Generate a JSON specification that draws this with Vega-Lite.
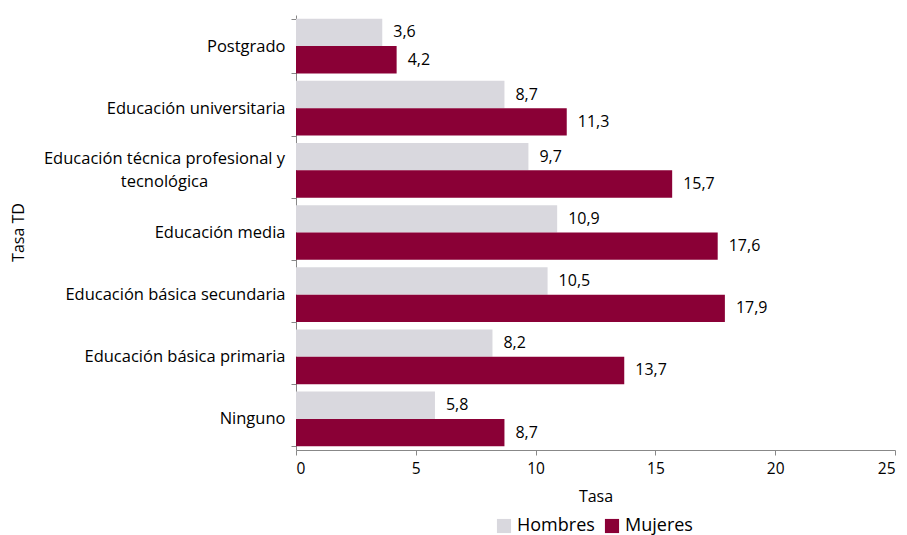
{
  "$schema": "https://vega.github.io/schema/vega-lite/v6.json",
  "autosize": {"type": "none"},
  "width": 599,
  "height": 435,
  "padding": {"left": 296, "top": 15, "right": 12, "bottom": 85},
  "config": {
    "locale": {"number": {"decimal": ",", "thousands": ".", "grouping": [3], "currency": ["", ""]}},
    "font": "Open Sans",
    "view": {"stroke": null},
    "axis": {"labelFont": "Open Sans", "titleFont": "Open Sans", "labelFontSize": 15.5, "titleFontSize": 16, "titleFontWeight": "normal", "labelColor": "#000000", "titleColor": "#000000", "domainColor": "#888888", "tickColor": "#888888", "grid": false}
  },
  "data": {
    "values": [
      {"nivel": "Postgrado", "sexo": "Hombres", "tasa": 3.6},
      {"nivel": "Postgrado", "sexo": "Mujeres", "tasa": 4.2},
      {"nivel": "Educación universitaria", "sexo": "Hombres", "tasa": 8.7},
      {"nivel": "Educación universitaria", "sexo": "Mujeres", "tasa": 11.3},
      {"nivel": "Educación técnica profesional y tecnológica", "sexo": "Hombres", "tasa": 9.7},
      {"nivel": "Educación técnica profesional y tecnológica", "sexo": "Mujeres", "tasa": 15.7},
      {"nivel": "Educación media", "sexo": "Hombres", "tasa": 10.9},
      {"nivel": "Educación media", "sexo": "Mujeres", "tasa": 17.6},
      {"nivel": "Educación básica secundaria", "sexo": "Hombres", "tasa": 10.5},
      {"nivel": "Educación básica secundaria", "sexo": "Mujeres", "tasa": 17.9},
      {"nivel": "Educación básica primaria", "sexo": "Hombres", "tasa": 8.2},
      {"nivel": "Educación básica primaria", "sexo": "Mujeres", "tasa": 13.7},
      {"nivel": "Ninguno", "sexo": "Hombres", "tasa": 5.8},
      {"nivel": "Ninguno", "sexo": "Mujeres", "tasa": 8.7}
    ]
  },
  "encoding": {
    "y": {
      "field": "nivel", "type": "nominal", "sort": null,
      "scale": {"paddingInner": 0.12, "paddingOuter": 0.06},
      "axis": {
        "title": "Tasa TD", "titleX": -278, "titleY": 217, "titleAngle": -90, "titleAlign": "center", "titleBaseline": "middle",
        "tickBand": "extent", "tickSize": 5, "labelLimit": 300, "labelLineHeight": 23, "labelFontSize": 16.5,
        "labelPadding": {"condition": {"test": "datum.value == 'Educación técnica profesional y tecnológica'", "value": 127}, "value": 6},
        "labelAlign": {"condition": {"test": "datum.value == 'Educación técnica profesional y tecnológica'", "value": "center"}, "value": "right"},
        "labelOffset": {"condition": {"test": "datum.value == 'Educación técnica profesional y tecnológica'", "value": -12}, "value": 0},
        "labelExpr": "datum.label == 'Educación técnica profesional y tecnológica' ? ['Educación técnica profesional y', 'tecnológica'] : datum.label"
      }
    },
    "yOffset": {"field": "sexo", "type": "nominal", "sort": ["Hombres", "Mujeres"]},
    "x": {
      "field": "tasa", "type": "quantitative",
      "scale": {"domain": [0, 25]},
      "axis": {"title": "Tasa", "values": [0, 5, 10, 15, 20, 25], "format": "d", "tickSize": 5, "labelPadding": 6, "titlePadding": 12}
    }
  },
  "layer": [
    {
      "mark": {"type": "bar"},
      "encoding": {
        "color": {
          "field": "sexo", "type": "nominal",
          "scale": {"domain": ["Hombres", "Mujeres"], "range": ["#D9D8DE", "#8A0036"]},
          "legend": {"title": null, "orient": "none", "legendX": 199, "legendY": 502, "direction": "horizontal", "symbolType": "square", "symbolSize": 200, "labelFontSize": 18, "labelFont": "Open Sans", "labelColor": "#000000", "labelOffset": 4, "columnPadding": 8, "symbolStrokeWidth": 0}
        }
      }
    },
    {
      "mark": {"type": "text", "align": "left", "dx": 11, "fontSize": 16, "font": "Open Sans", "color": "#000000"},
      "encoding": {
        "text": {"field": "tasa", "type": "quantitative", "format": ".1f"}
      }
    }
  ]
}
